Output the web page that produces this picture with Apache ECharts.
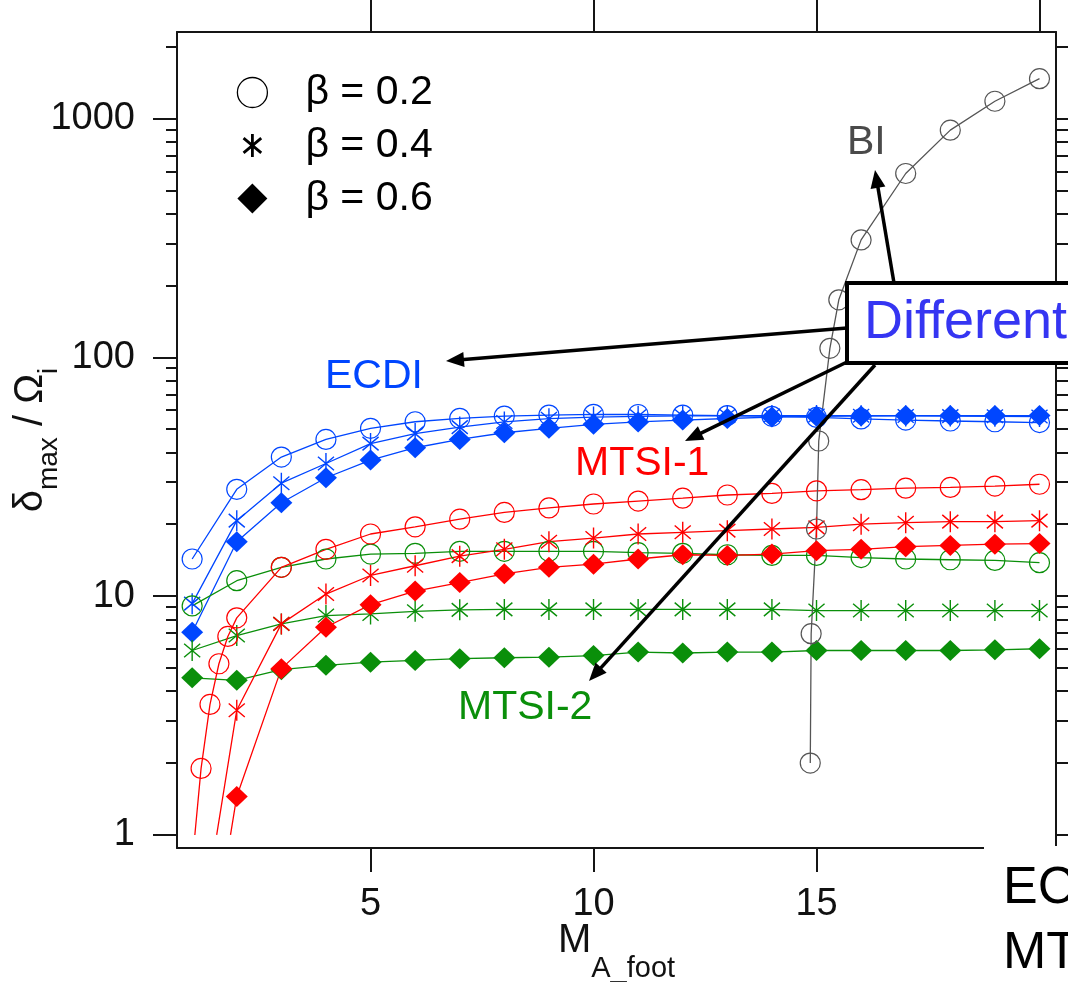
<!DOCTYPE html>
<html>
<head>
<meta charset="utf-8">
<script src="https://cdn.jsdelivr.net/npm/echarts@6/dist/echarts.min.js"></script>
<style>html,body{margin:0;padding:0;background:#fff}#chart{width:1068px;height:982px}</style>
</head>
<body>
<div id="chart"></div>
<script>
// ---------------- data ----------------
const M_A = [1,2,3,4,5,6,7,8,9,10,11,12,13,14,15,16,17,18,19,20];

const ECDI_B02 = [14.3,28.0,38.2,45.3,50.4,53.7,55.5,56.7,57.3,57.7,57.6,57.3,57.0,56.6,56.0,55.2,54.6,54.1,53.7,53.3];
const ECDI_B04 = [9.3,20.7,29.7,35.9,43.5,47.9,51.0,53.6,55.3,56.2,56.6,56.8,56.9,57.0,57.0,56.9,56.8,56.7,56.6,56.5];
const ECDI_B06 = [7.06,16.9,24.6,31.3,37.1,41.8,45.3,48.3,50.4,52.4,53.6,54.6,55.4,56.2,56.6,56.8,57.0,57.0,57.0,57.0];

const MTSI1_B02_X = [1.06,1.2,1.4,1.6,1.8,2,3,4,5,6,7,8,9,10,11,12,13,14,15,16,17,18,19,20];
const MTSI1_B02   = [1.0,1.90,3.52,5.21,6.78,8.11,13.2,15.7,18.2,19.5,21.0,22.4,23.4,24.3,25.0,25.7,26.5,26.9,27.6,27.9,28.3,28.5,28.9,29.4];
const MTSI1_B04_X = [1.55,2,3,4,5,6,7,8,9,10,11,12,13,14,15,16,17,18,19,20];
const MTSI1_B04   = [1.0,3.33,7.65,10.2,12.2,13.4,14.7,15.7,16.9,17.5,18.2,18.5,18.8,19.1,19.4,20.0,20.3,20.5,20.5,20.7];
const MTSI1_B06_X = [1.86,2,3,4,5,6,7,8,9,10,11,12,13,14,15,16,17,18,19,20];
const MTSI1_B06   = [1.0,1.45,4.97,7.41,9.21,10.5,11.4,12.4,13.2,13.6,14.3,14.9,14.8,15.0,15.5,15.7,16.1,16.3,16.5,16.6];

const MTSI2_B02 = [9.1,11.6,13.2,14.3,15.0,15.1,15.4,15.4,15.4,15.4,15.2,15.1,14.9,14.8,14.8,14.5,14.3,14.2,14.1,13.8];
const MTSI2_B04 = [5.92,6.84,7.65,8.29,8.42,8.64,8.76,8.8,8.8,8.8,8.8,8.8,8.8,8.8,8.7,8.7,8.7,8.7,8.7,8.7];
const MTSI2_B06 = [4.55,4.44,4.92,5.13,5.29,5.38,5.47,5.52,5.55,5.64,5.83,5.78,5.83,5.83,5.92,5.92,5.92,5.92,5.96,6.02];

const BI_X   = [14.86,14.88,15.0,15.05,15.3,15.5,16,17,18,19,20];
const BI_B02 = [2.0,6.96,19.1,44.6,109,174,310,588,893,1180,1467];

const X_TICKS = [5,10,15];
const X_TOP_TICKS = [5,10,15,20];
const Y_TICKS = [1,10,100,1000];
const Y_MINOR = [2,3,4,5,6,7,8,9,20,30,40,50,60,70,80,90,200,300,400,500,600,700,800,900,2000];
const LEGEND_LABELS = ['β = 0.2','β = 0.4','β = 0.6'];
const CURVE_LABELS = ['ECDI','MTSI-1','MTSI-2','BI'];
const NOTE_TEXT = 'Different';
const CORNER_TEXT = ['EC','MT'];

// ---------------- styles ----------------
const FONT = '"Liberation Sans", Arial, Helvetica, sans-serif';
const BLUE = '#0046ff', RED = '#ff0000', GREEN = '#0a8f0a', GRAY = '#555555', AX = '#151515';

function starPath(r, pad) {
  const a = (0.766 * r).toFixed(2), b = (0.643 * r).toFixed(2);
  return `path://M${-pad},${-pad}M${pad},${pad}M0,${-r}L0,${r}M${-a},${-b}L${a},${b}M${-a},${b}L${a},${-b}`;
}
const MARKS = {
  circle:  { symbol: 'circle', size: 20, style: c => ({ color: 'rgba(0,0,0,0)', borderColor: c, borderWidth: 1.2 }) },
  star:    { symbol: starPath(10, 10), size: 21, style: c => ({ color: 'rgba(0,0,0,0)', borderColor: c, borderWidth: 1.4 }) },
  diamond: { symbol: 'diamond', size: [22, 21], style: c => ({ color: c, borderWidth: 0 }) }
};

const SPECS = [
  { name: 'ECDI β=0.2', x: M_A, y: ECDI_B02, c: BLUE, m: 'circle' },
  { name: 'ECDI β=0.4', x: M_A, y: ECDI_B04, c: BLUE, m: 'star' },
  { name: 'ECDI β=0.6', x: M_A, y: ECDI_B06, c: BLUE, m: 'diamond' },
  { name: 'MTSI-2 β=0.2', x: M_A, y: MTSI2_B02, c: GREEN, m: 'circle' },
  { name: 'MTSI-2 β=0.4', x: M_A, y: MTSI2_B04, c: GREEN, m: 'star' },
  { name: 'MTSI-2 β=0.6', x: M_A, y: MTSI2_B06, c: GREEN, m: 'diamond' },
  { name: 'MTSI-1 β=0.2', x: MTSI1_B02_X, y: MTSI1_B02, c: RED, m: 'circle', hideFirst: true },
  { name: 'MTSI-1 β=0.4', x: MTSI1_B04_X, y: MTSI1_B04, c: RED, m: 'star', hideFirst: true },
  { name: 'MTSI-1 β=0.6', x: MTSI1_B06_X, y: MTSI1_B06, c: RED, m: 'diamond', hideFirst: true },
  { name: 'BI β=0.2', x: BI_X, y: BI_B02, c: GRAY, m: 'circle' }
];

const series = SPECS.map(s => ({
  type: 'line', name: s.name, xAxisIndex: 0, yAxisIndex: 0,
  data: s.x.map((xv, i) => (s.hideFirst && i === 0) ? { value: [xv, s.y[i]], symbol: 'none' } : [xv, s.y[i]]),
  symbol: MARKS[s.m].symbol, symbolSize: MARKS[s.m].size,
  itemStyle: MARKS[s.m].style(s.c),
  lineStyle: { color: s.c, width: 1.3 },
  emphasis: { disabled: true }, silent: true
}));
// legend carrier series (no data)
LEGEND_LABELS.forEach(n => series.push({ type: 'line', name: n, data: [], xAxisIndex: 0, yAxisIndex: 0 }));

// ---------------- annotations ----------------
function arrow(x1, y1, x2, y2) {
  const dx = x2 - x1, dy = y2 - y1, len = Math.hypot(dx, dy), ux = dx / len, uy = dy / len, nx = -uy, ny = ux;
  const L = 18, W = 7.5, bx = x2 - ux * L, by = y2 - uy * L;
  return [
    { type: 'line', z: 20, shape: { x1: x1, y1: y1, x2: bx + ux * 3, y2: by + uy * 3 }, style: { stroke: '#000', lineWidth: 3.5 } },
    { type: 'polygon', z: 20, shape: { points: [[x2, y2], [bx + nx * W, by + ny * W], [bx - nx * W, by - ny * W]] }, style: { fill: '#000' } }
  ];
}
function label(text, x, baseline, size, color) {
  return { type: 'text', z: 22, style: { text: text, x: x, y: baseline - 0.3465 * size, font: `${size}px ${FONT}`, fill: color, align: 'left', verticalAlign: 'middle' } };
}

const graphic = [].concat(
  arrow(847, 328, 446, 361),
  arrow(847, 362, 685, 441),
  arrow(875, 365, 589, 681),
  arrow(894, 283, 875, 170),
  [
    { type: 'rect', z: 21, shape: { x: 847, y: 283, width: 260, height: 80 }, style: { fill: '#fff', stroke: '#000', lineWidth: 4 } },
    label(NOTE_TEXT, 864, 342, 54, '#3535f2'),
    label(CURVE_LABELS[0], 325, 391, 41, BLUE),
    label(CURVE_LABELS[1], 575, 478, 41, RED),
    label(CURVE_LABELS[2], 458, 722, 41, GREEN),
    label(CURVE_LABELS[3], 847, 157, 41, '#4a4a4a'),
    { type: 'rect', z: 21, shape: { x: 984, y: 846, width: 90, height: 140 }, style: { fill: '#fff' } },
    label(CORNER_TEXT[0], 1003, 907, 52, '#000'),
    label(CORNER_TEXT[1], 1003, 972, 52, '#000')
  ]
);

// ---------------- axes ----------------
const X_MIN = 0.66, X_MAX = 20.37, Y_MIN = 0.882, Y_MAX = 2300;
const lineSt = { color: AX, width: 2 };
function yAx(pos, ticks, len, showLine, showLabel) {
  return {
    type: 'log', logBase: 10, position: pos, min: Y_MIN, max: Y_MAX, gridIndex: 0,
    axisLine: { show: showLine, onZero: false, lineStyle: lineSt },
    axisTick: { show: true, inside: false, length: len, customValues: ticks, lineStyle: { color: AX, width: 2 } },
    axisLabel: { show: showLabel, customValues: ticks, fontSize: 38, fontFamily: FONT, color: '#111', margin: 42,
                 formatter: v => String(Math.round(v)) },
    splitLine: { show: false }, minorTick: { show: false }
  };
}
const yAxes = [yAx('left', Y_TICKS, 24, true, true), yAx('left', Y_MINOR, 11, false, false),
               yAx('right', Y_TICKS.concat(Y_MINOR), 14, true, false)];
yAxes[0].name = '{d|δ}{s|max}{d| / Ω}{s|i}';
yAxes[0].nameLocation = 'middle';
yAxes[0].nameGap = 114;
yAxes[0].nameRotate = 90;
yAxes[0].nameMoveOverlap = false;
yAxes[0].nameTextStyle = {
  fontSize: 40, fontFamily: FONT, color: '#111',
  rich: {
    d: { fontSize: 40, lineHeight: 64, fontFamily: FONT, color: '#111' },
    s: { fontSize: 28, lineHeight: 28, verticalAlign: 'bottom', fontFamily: FONT, color: '#111' }
  }
};

const option = {
  animation: false,
  backgroundColor: '#fff',
  grid: { left: 177, top: 32, right: 12, bottom: 134, containLabel: false, outerBoundsMode: 'none' },
  legend: {
    orient: 'vertical', left: 236, top: 72, padding: 0, itemWidth: 96, itemHeight: 30, itemGap: 12,
    selectedMode: false, symbolKeepAspect: true,
    textStyle: { fontSize: 41, color: '#000', fontFamily: FONT },
    data: [
      { name: LEGEND_LABELS[0], icon: 'circle', itemStyle: { color: 'rgba(0,0,0,0)', borderColor: '#000', borderWidth: 1.3 } },
      { name: LEGEND_LABELS[1], icon: starPath(10, 13), itemStyle: { color: 'rgba(0,0,0,0)', borderColor: '#000', borderWidth: 2.8 } },
      { name: LEGEND_LABELS[2], icon: 'path://M0,-15L15,0L0,15L-15,0Z', itemStyle: { color: '#000', borderWidth: 0 } }
    ]
  },
  xAxis: [
    {
      type: 'value', position: 'bottom', min: X_MIN, max: X_MAX,
      axisLine: { show: true, onZero: false, lineStyle: lineSt },
      axisTick: { show: true, inside: false, length: 24, customValues: X_TICKS, lineStyle: { color: AX, width: 2 } },
      axisLabel: { customValues: X_TICKS, fontSize: 38, fontFamily: FONT, color: '#111', margin: 38 },
      splitLine: { show: false },
      name: '{m|M}{s|A_foot}', nameLocation: 'middle', nameGap: 51, nameMoveOverlap: false,
      nameTextStyle: {
        fontSize: 40, fontFamily: FONT, color: '#111',
        rich: {
          m: { fontSize: 40, lineHeight: 84, fontFamily: FONT, color: '#111' },
          s: { fontSize: 29, lineHeight: 29, verticalAlign: 'bottom', fontFamily: FONT, color: '#111' }
        }
      }
    },
    {
      type: 'value', position: 'top', min: X_MIN, max: X_MAX,
      axisLine: { show: true, onZero: false, lineStyle: lineSt },
      axisTick: { show: true, inside: false, length: 34, customValues: X_TOP_TICKS, lineStyle: { color: AX, width: 2 } },
      axisLabel: { show: false },
      splitLine: { show: false }
    }
  ],
  yAxis: yAxes,
  series: series,
  graphic: graphic
};

const chart = echarts.init(document.getElementById('chart'), null, { renderer: 'canvas' });
chart.setOption(option);
</script>
</body>
</html>
